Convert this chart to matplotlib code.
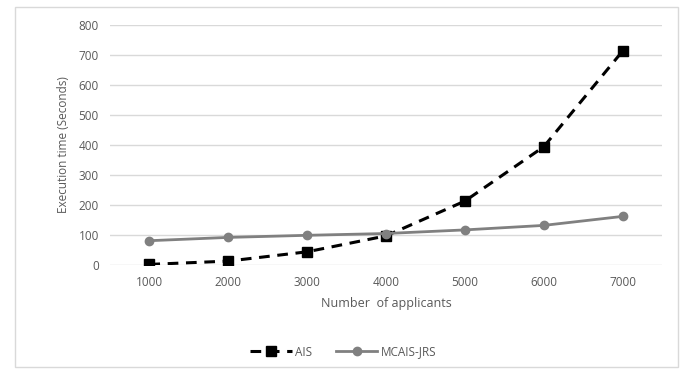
import matplotlib.pyplot as plt
from matplotlib.patches import Rectangle

# data
applicants = ["1000", "2000", "3000", "4000", "5000", "6000", "7000"]
ais = [2, 13, 44, 97, 213, 394, 713]
mcais_jrs = [81, 92, 99, 105, 117, 132, 162]

plt.rcParams["font.family"] = ["Open Sans", "DejaVu Sans"]

fig = plt.figure(figsize=(6.87, 3.71), dpi=100)
ax = fig.add_axes([0.160, 0.2857, 0.8036, 0.6469])

x = range(len(applicants))
ax.plot(x, ais, color="black", linestyle=(0, (3.5, 2.5)), linewidth=2.2,
        marker="s", markersize=6.5, label="AIS")
ax.plot(x, mcais_jrs, color="#808080", linewidth=2,
        marker="o", markersize=6, label="MCAIS-JRS")

ax.set_xlim(-0.5, len(applicants) - 0.5)
ax.set_ylim(0, 800)
ax.set_yticks(range(0, 801, 100))
ax.set_xticks(list(x))
ax.set_xticklabels(applicants)

for s in ax.spines.values():
    s.set_visible(False)
ax.grid(axis="y", color="#d9d9d9", linewidth=1)
ax.set_axisbelow(True)
ax.tick_params(length=0, labelsize=8.5, labelcolor="#595959", pad=8)

ax.set_ylabel("Execution time (Seconds)", fontsize=8.5, color="#595959", labelpad=6)
ax.set_xlabel("Number  of applicants", fontsize=9, color="#595959", labelpad=6)

fig.legend(loc="center", bbox_to_anchor=(0.5, 1 - 352 / 371), ncol=2,
           frameon=False, fontsize=8.5, labelcolor="#595959",
           handlelength=3.5, handletextpad=0.3, columnspacing=2)

# light frame round the chart
fig.patches.append(Rectangle((15 / 687, 4 / 371), 663 / 687, 360 / 371,
                             transform=fig.transFigure, fill=False,
                             edgecolor="#d9d9d9", linewidth=1))

plt.savefig("out.png", dpi=100)
